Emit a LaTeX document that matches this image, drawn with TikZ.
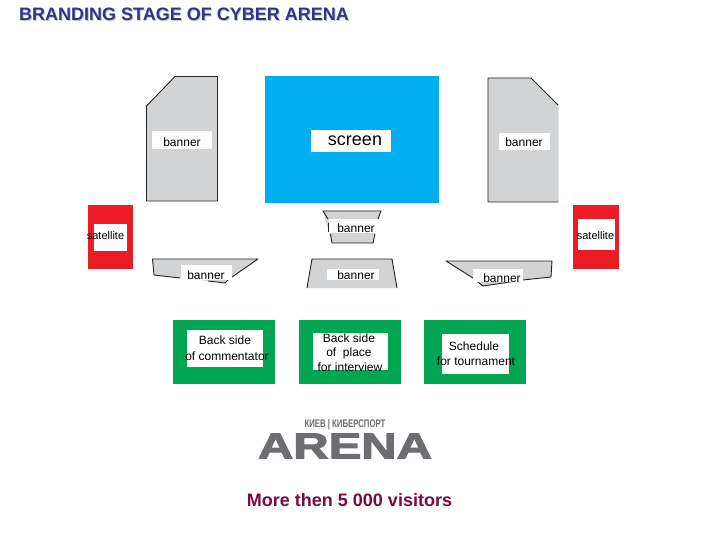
\documentclass[tikz,border=0pt]{standalone}
\usepackage{fontspec}
\setmainfont{Liberation Sans}
\newfontfamily\logofont[UprightFont={* Bold},UprightFeatures={FakeBold=2.5}]{Liberation Sans}
\definecolor{grayfill}{HTML}{D1D3D4}
\definecolor{screenblue}{HTML}{00AEEF}
\definecolor{satred}{HTML}{ED1C24}
\definecolor{boardgreen}{HTML}{00A651}
\definecolor{titleblue}{HTML}{333388}
\definecolor{titleshade}{HTML}{C4C4D4}
\definecolor{maroon}{HTML}{7A0A40}
\definecolor{logogray}{HTML}{6D6E71}
\definecolor{edge}{HTML}{222222}
\tikzset{
  x=1pt,y=-1pt,
  plate/.style={fill=white,draw=none},
  panel/.style={fill=grayfill,draw=none},
  rim/.style={draw=edge,line width=0.9pt,line join=round},
  lbl/.style={inner sep=0pt,text=black,font=\fontsize{12}{14}\selectfont,align=center},
  lblsat/.style={inner sep=0pt,text=black,font=\fontsize{11}{13}\selectfont},
}
\begin{document}
\begin{tikzpicture}
\useasboundingbox (0,0) rectangle (720,540);
\fill[white] (0,0) rectangle (720,540);

% title
\node[anchor=west,inner sep=0pt,text=titleshade,font=\fontsize{18}{20}\bfseries\selectfont] (titleshadow) at (20,15.8) {BRANDING STAGE OF CYBER ARENA};
\node[anchor=west,inner sep=0pt,text=titleblue,font=\fontsize{18}{20}\bfseries\selectfont] (title) at (19,14.8) {BRANDING STAGE OF CYBER ARENA};

% tall banners
\fill[panel] (146.5,106) -- (175,76.5) -- (217.5,76.5) -- (217.5,201) -- (146.5,201) -- cycle;
\draw[rim] (146.5,106) -- (175,76.5) -- (217.5,76.5) -- (217.5,201) -- (146.5,201) -- cycle;
\fill[plate] (152,131) rectangle (212,149);
\node[lbl] (bannerL) at (182,142.5) {banner};

\fill[panel] (488,78) -- (531,78) -- (558.5,105) -- (558.5,202) -- (488,202) -- cycle;
\draw[rim] (558,105) -- (531,78) -- (488,78) -- (488,202) -- (558,202);
\fill[plate] (499,133) rectangle (550,150);
\node[lbl] (bannerR) at (524,142.5) {banner};

% screen
\fill[screenblue] (265,76) rectangle (439,203);
\fill[plate] (311,130) rectangle (391,152);
\node[inner sep=0pt,font=\fontsize{18}{20}\selectfont] (screen) at (355,141) {screen};

% satellites
\fill[satred] (88,205) rectangle (133,269);
\fill[plate] (94,224) rectangle (127,251);
\node[lblsat] (satL) at (105.5,236) {satellite};
\fill[satred] (573,205) rectangle (619,269);
\fill[plate] (578,219) rectangle (615,250);
\node[lblsat] (satR) at (595.5,236) {satellite};

% central small banners
\fill[panel] (323,211) -- (381,211) -- (373,243) -- (332,243) -- cycle;
\draw[rim] (328,219) -- (323,211) -- (381,211) -- (378,219);
\draw[rim] (330.5,234) -- (332,243) -- (373,243) -- (375,234);
\fill[plate] (329,219) rectangle (380,233);
\draw[rim] (328.5,223) -- (328.5,232);
\node[lbl] (bannerT) at (356,228) {banner};

\fill[panel] (312,259) -- (392,259) -- (397,288) -- (307,288) -- cycle;
\draw[rim] (307,288) -- (312,259) -- (392,259) -- (397,288);
\fill[plate] (327,269) rectangle (379,280);
\node[lbl] (bannerM) at (356,275.5) {banner};

% side low banners
\fill[panel] (152.5,259) -- (258,259) -- (232,277) -- (225,283) -- (208,281) -- (180,278) -- (154,275) -- cycle;
\draw[rim] (232,277) -- (258,259) -- (152.5,259) -- (154,275) -- (180,278);
\draw[rim] (208,281) -- (225,283) -- (228,280);
\fill[plate] (181,265) rectangle (232,280);
\node[lbl] (bannerSL) at (206,275) {banner};

\fill[panel] (446,261) -- (552,261) -- (551,277) -- (523,280) -- (483,286) -- (473,278) -- cycle;
\draw[rim] (473,278) -- (446,261) -- (552,261) -- (551,277) -- (523,280) -- (483,286) -- (473,278);
\fill[plate] (473,269) rectangle (523,282);
\node[lbl] (bannerSR) at (502,278) {banner};

% green boards
\fill[boardgreen] (173,320) rectangle (275,384);
\fill[plate] (187,330) rectangle (263,367);
\node[lbl] (boardA1) at (225,340.5) {Back side};
\node[lbl] (boardA2) at (227,356) {of commentator};

\fill[boardgreen] (299,320) rectangle (401,384);
\fill[plate] (313,333) rectangle (388,370);
\node[lbl] (boardB1) at (349,338) {Back side};
\node[lbl] (boardB2) at (349,353) {of\ \ place};
\node[lbl] (boardB3) at (350,367) {for interview};

\fill[boardgreen] (424,320) rectangle (526,384);
\fill[plate] (442,334) rectangle (509,374);
\node[lbl] (boardC1) at (474,346.5) {Schedule};
\node[lbl] (boardC2) at (476,361) {for tournament};

% logo
\node[inner sep=0pt,text=logogray] (logotop) at (345,425) {\resizebox{81pt}{8pt}{\bfseries КИЕВ | КИБЕРСПОРТ}};
\node[inner sep=0pt,text=logogray] (logo) at (345,446) {\resizebox{174pt}{25pt}{\logofont ARENA}};

% visitors
\node[inner sep=0pt,text=maroon,font=\fontsize{18}{20}\bfseries\selectfont] (visitors) at (349.5,500.5) {More then 5 000 visitors};
\end{tikzpicture}
\end{document}
